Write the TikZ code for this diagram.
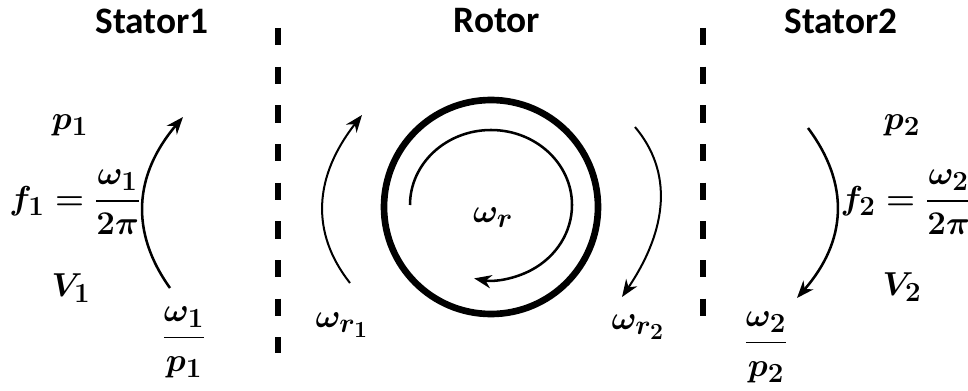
\documentclass[tikz,border=0pt]{standalone}
\usepackage{fontspec}
\setsansfont{Carlito}
\usepackage{amsmath}
\usetikzlibrary{arrows.meta}

\begin{document}
\begin{tikzpicture}[x=0.75pt, y=0.75pt,
    title/.style={font=\fontsize{28}{33}\selectfont\sffamily\bfseries},
    sym/.style={font=\Huge\boldmath},
    spin/.style={line width=1.9pt, -{Stealth[length=13pt,width=10pt]}},
    gap/.style={line width=5pt, dash pattern=on 13pt off 16pt}]
  \useasboundingbox (0,0) rectangle (968,390);
  % --- headings ---
  \node[title] (st1) at (152,369) {Stator1};
  \node[title] (rot) at (497,369) {Rotor};
  \node[title] (st2) at (841,369) {Stator2};
  % --- air-gap dividers ---
  \coordinate (g1a) at (278,362); \coordinate (g1b) at (278,37);
  \coordinate (g2a) at (703,362); \coordinate (g2b) at (703,55);
  \draw[gap] (g1a) -- (g1b);
  \draw[gap] (g2a) -- (g2b);
  % --- stator 1 quantities ---
  \node[sym] (p1) at (70,265) {$p_1$};
  \node[sym] (f1) at (75,188) {$f_1=\dfrac{\omega_1}{2\pi}$};
  \node[sym] (V1) at (71,102) {$V_1$};
  \node[sym] (w1p1) at (184,48) {$\dfrac{\omega_1}{p_1}$};
  % --- stator 2 quantities ---
  \node[sym] (p2) at (902,265) {$p_2$};
  \node[sym] (f2) at (906,188) {$f_2=\dfrac{\omega_2}{2\pi}$};
  \node[sym] (V2) at (902,103) {$V_2$};
  \node[sym] (w2p2) at (766,43) {$\dfrac{\omega_2}{p_2}$};
  % --- rotor quantities ---
  \node[sym] (wr1) at (342,65) {$\omega_{r_1}$};
  \node[sym] (wr2) at (638,63) {$\omega_{r_2}$};
  \node[sym] (wr) at (493,172) {$\omega_r$};
  % --- rotor ring and its own spin ---
  \coordinate (rc) at (491,183);
  \draw[line width=5pt] (rc) circle (107);
  \draw[line width=1.9pt, -{Stealth[length=13pt,width=10pt]}]
    (410,185) arc[start angle=180, end angle=-102, x radius=81, y radius=75];
  % --- field rotation arrows ---
  \coordinate (a1s) at (170,102); \coordinate (a1e) at (183,273);
  \coordinate (a2s) at (350,107); \coordinate (a2e) at (362,275);
  \coordinate (a3s) at (635,263); \coordinate (a3e) at (622,93);
  \coordinate (a4s) at (808,262); \coordinate (a4e) at (797,92);
  \draw[spin] (a1s) .. controls (129.7,158.3) and (134,215.3) .. (a1e);
  \draw[spin, line width=1.5pt] (a2s) .. controls (310,157.7) and (314,213.7) .. (a2e);
  \draw[spin, line width=1.5pt] (a3s) .. controls (672.7,218.3) and (668.3,161.7) .. (a3e);
  \draw[spin] (a4s) .. controls (850.3,205.3) and (846.7,148.7) .. (a4e);
\end{tikzpicture}
\end{document}
